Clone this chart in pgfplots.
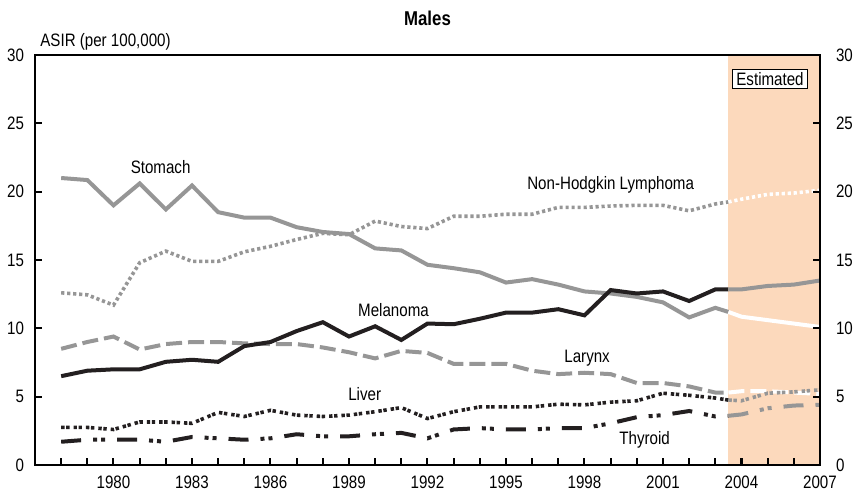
\documentclass[border=0pt]{standalone}
\usepackage{pgfplots}
\pgfplotsset{compat=1.18}
\usepackage{fontspec}
\setmainfont{Liberation Sans}[FakeStretch=0.84]
\definecolor{peach}{RGB}{252,217,188}
\definecolor{lgray}{RGB}{150,150,150}
\definecolor{dblack}{RGB}{35,31,32}
\newcommand\f{\fontsize{9bp}{11bp}\selectfont}
\begin{document}
\begin{tikzpicture}
\pgfplotsset{
  common/.style={scale only axis, width=392.5bp, height=205bp,
    xmin=1977, xmax=2007, ymin=0, ymax=30,
    ytick={0,5,...,30}, tick align=inside,
    major tick length=3.3bp, minor tick length=3.3bp,
    tick style={black, line width=1bp},
    axis line style={line width=1.3bp, black},
    /pgf/number format/assume math mode=true,
    /pgf/number format/1000 sep={}}
}
\begin{axis}[common, name=ax, axis on top,
  xtick={1980,1983,...,2007}, minor xtick={1978,...,2006},
  xtick pos=bottom, ytick pos=left,
  xticklabel style={font=\f, yshift=-2bp},
  yticklabel style={font=\f, xshift=-2bp}]
\fill[peach] (axis cs:2003.5,0) rectangle (axis cs:2007,30);
% Larynx
\addplot[lgray, line width=2bp, dash pattern=on 8bp off 3bp] coordinates {
(1978,8.5)(1979,9.0)(1980,9.4)(1981,8.45)(1982,8.85)(1983,9.0)(1984,9.0)(1985,8.9)(1986,8.85)(1987,8.85)(1988,8.6)(1989,8.25)(1990,7.8)(1991,8.35)(1992,8.2)(1993,7.4)(1994,7.4)(1995,7.4)(1996,6.9)(1997,6.65)(1998,6.75)(1999,6.65)(2000,6.0)(2001,6.0)(2002,5.75)(2003,5.3)(2003.5,5.3)};
\addplot[white, line width=2bp, dash pattern=on 8bp off 3bp] coordinates {
(2003.5,5.3)(2004,5.4)(2005,5.4)(2006,5.3)(2007,5.2)};
% NHL
\addplot[lgray, line width=1.8bp, dash pattern=on 1.6bp off 1.4bp] coordinates {
(1978,12.6)(1979,12.45)(1980,11.7)(1981,14.8)(1982,15.65)(1983,14.9)(1984,14.9)(1985,15.6)(1986,16.0)(1987,16.5)(1988,16.95)(1989,16.85)(1990,17.85)(1991,17.45)(1992,17.3)(1993,18.2)(1994,18.2)(1995,18.35)(1996,18.35)(1997,18.85)(1998,18.85)(1999,18.95)(2000,19.0)(2001,19.0)(2002,18.6)(2003,19.1)(2003.5,19.25)};
\addplot[white, line width=1.8bp, dash pattern=on 1.6bp off 1.4bp] coordinates {
(2003.5,19.25)(2004,19.45)(2005,19.8)(2006,19.9)(2007,20.1)};
% Stomach
\addplot[lgray, line width=2bp] coordinates {
(1978,21.0)(1979,20.85)(1980,19.0)(1981,20.6)(1982,18.7)(1983,20.45)(1984,18.5)(1985,18.1)(1986,18.1)(1987,17.4)(1988,17.05)(1989,16.9)(1990,15.85)(1991,15.7)(1992,14.65)(1993,14.4)(1994,14.1)(1995,13.35)(1996,13.6)(1997,13.2)(1998,12.7)(1999,12.55)(2000,12.3)(2001,11.9)(2002,10.8)(2003,11.5)(2003.5,11.2)};
\addplot[white, line width=2bp] coordinates {
(2003.5,11.2)(2004,10.85)(2005,10.6)(2006,10.35)(2007,10.1)};
% Liver
\addplot[dblack, line width=1.8bp, dash pattern=on 1.7bp off 0.8bp on 1.7bp off 2bp] coordinates {
(1978,2.75)(1979,2.75)(1980,2.6)(1981,3.15)(1982,3.15)(1983,3.05)(1984,3.85)(1985,3.55)(1986,4.0)(1987,3.65)(1988,3.55)(1989,3.65)(1990,3.9)(1991,4.2)(1992,3.4)(1993,3.9)(1994,4.25)(1995,4.25)(1996,4.25)(1997,4.45)(1998,4.4)(1999,4.6)(2000,4.7)(2001,5.25)(2002,5.1)(2003,4.9)(2003.5,4.75)};
\addplot[lgray, line width=1.8bp, dash pattern=on 1.7bp off 0.8bp on 1.7bp off 2bp] coordinates {
(2003.5,4.75)(2004,4.7)(2005,5.25)(2006,5.35)(2007,5.5)};
% Thyroid
\addplot[dblack, line width=2bp, dash pattern=on 10bp off 6bp on 2bp off 2bp on 2bp off 6bp] coordinates {
(1978,1.7)(1979,1.85)(1980,1.85)(1981,1.85)(1982,1.7)(1983,2.05)(1984,1.95)(1985,1.85)(1986,1.95)(1987,2.25)(1988,2.1)(1989,2.1)(1990,2.25)(1991,2.35)(1992,1.95)(1993,2.6)(1994,2.7)(1995,2.6)(1996,2.6)(1997,2.7)(1998,2.7)(1999,3.05)(2000,3.5)(2001,3.65)(2002,3.95)(2003,3.55)(2003.5,3.6)};
\addplot[lgray, line width=2bp, dash pattern=on 10bp off 6bp on 2bp off 2bp on 2bp off 6bp] coordinates {
(2003.5,3.6)(2004,3.7)(2005,4.15)(2006,4.35)(2007,4.4)};
% Melanoma
\addplot[dblack, line width=2bp] coordinates {
(1978,6.5)(1979,6.9)(1980,7.0)(1981,7.0)(1982,7.55)(1983,7.7)(1984,7.55)(1985,8.7)(1986,9.0)(1987,9.8)(1988,10.45)(1989,9.4)(1990,10.15)(1991,9.15)(1992,10.35)(1993,10.3)(1994,10.7)(1995,11.15)(1996,11.15)(1997,11.4)(1998,10.95)(1999,12.8)(2000,12.55)(2001,12.7)(2002,12.0)(2003,12.85)(2003.5,12.85)};
\addplot[lgray, line width=2bp] coordinates {
(2003.5,12.85)(2004,12.85)(2005,13.1)(2006,13.2)(2007,13.5)};
\node[font=\f] at (axis cs:1981.8,21.8) {Stomach};
\node[font=\f] at (axis cs:1999.0,20.48) {Non-Hodgkin Lymphoma};
\node[font=\f] at (axis cs:1990.7,11.34) {Melanoma};
\node[font=\f] at (axis cs:1998.1,7.8) {Larynx};
\node[font=\f] at (axis cs:1989.6,5.19) {Liver};
\node[font=\f] at (axis cs:2000.3,1.83) {Thyroid};
\node[font=\f, draw=black, fill=white, line width=0.6bp, inner xsep=2bp, inner ysep=1.5bp] at (axis cs:2005.09,28.24) {Estimated};
\end{axis}
\begin{axis}[common, hide x axis, axis y line*=right,
  yticklabel style={font=\f, xshift=4.5bp}]
\end{axis}
\node[font=\fontsize{10bp}{12bp}\selectfont\bfseries] at ([yshift=18.5bp]ax.north) {Males};
\node[font=\f, anchor=west, inner sep=0pt] at ([xshift=2.5bp, yshift=6.5bp]ax.north west) {ASIR (per 100,000)};
\pgfresetboundingbox
\path[use as bounding box] ([xshift=-17.5bp,yshift=-12.5bp]ax.south west) rectangle ([xshift=18.5bp,yshift=27.5bp]ax.north east);
\end{tikzpicture}
\end{document}
